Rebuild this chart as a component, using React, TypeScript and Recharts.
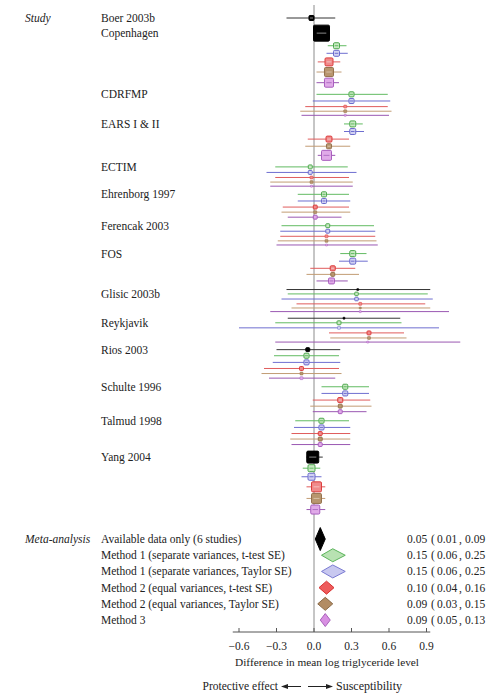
import {
  ScatterChart,
  Scatter,
  XAxis,
  YAxis,
  ErrorBar,
  ReferenceLine,
  ReferenceArea,
} from "recharts";

// each entry: [estimate, lower, upper, weight] or null when the study has no row
type Est = [number, number, number, number] | null;

const studies = [
  "Boer 2003b",
  "Copenhagen",
  "CDRFMP",
  "EARS I & II",
  "ECTIM",
  "Ehrenborg 1997",
  "Ferencak 2003",
  "FOS",
  "Glisic 2003b",
  "Reykjavik",
  "Rios 2003",
  "Schulte 1996",
  "Talmud 1998",
  "Yang 2004",
];

const availableData: Est[] = [
  [-0.02, -0.22, 0.17, 10],
  [0.06, 0.03, 0.09, 100],
  null,
  null,
  null,
  null,
  null,
  null,
  [0.35, -0.22, 0.93, 1.6],
  [0.24, -0.21, 0.69, 1.6],
  [-0.05, -0.3, 0.21, 6],
  null,
  null,
  [-0.01, -0.06, 0.07, 56],
];

const m1TTest: Est[] = [
  null,
  [0.18, 0.11, 0.26, 14],
  [0.3, 0.02, 0.59, 10],
  [0.31, 0.24, 0.39, 14],
  [-0.03, -0.31, 0.27, 6],
  [0.08, -0.13, 0.28, 10],
  [0.11, -0.26, 0.48, 6],
  [0.31, 0.21, 0.42, 14],
  [0.34, -0.21, 0.91, 4.8],
  [0.2, -0.31, 0.7, 6],
  [-0.06, -0.32, 0.2, 10],
  [0.25, 0.06, 0.44, 10],
  [0.06, -0.15, 0.28, 10],
  [-0.02, -0.09, 0.05, 19],
];

const m1Taylor: Est[] = [
  null,
  [0.18, 0.1, 0.27, 14],
  [0.3, -0.01, 0.61, 10],
  [0.31, 0.24, 0.4, 14],
  [-0.03, -0.38, 0.34, 6],
  [0.08, -0.13, 0.29, 10],
  [0.11, -0.27, 0.49, 6],
  [0.31, 0.2, 0.43, 14],
  [0.34, -0.26, 0.95, 4.8],
  [0.2, -0.6, 1.0, 3.5],
  [-0.06, -0.33, 0.21, 10],
  [0.25, 0.06, 0.44, 10],
  [0.06, -0.16, 0.29, 10],
  [-0.02, -0.1, 0.06, 19],
];

const m2TTest: Est[] = [
  null,
  [0.12, 0.03, 0.21, 25],
  [0.25, -0.07, 0.59, 3.5],
  [0.12, -0.05, 0.28, 14],
  [-0.02, -0.31, 0.28, 3.5],
  [0.01, -0.25, 0.28, 6],
  [0.1, -0.27, 0.49, 3.5],
  [0.15, -0.03, 0.33, 10],
  [0.37, -0.14, 0.89, 3.5],
  [0.44, 0.12, 0.72, 6],
  [-0.1, -0.4, 0.2, 6],
  [0.21, -0.01, 0.45, 10],
  [0.05, -0.18, 0.29, 6],
  [0.02, -0.06, 0.09, 39],
];

const m2Taylor: Est[] = [
  null,
  [0.12, 0.02, 0.22, 32],
  [0.25, -0.11, 0.62, 3.5],
  [0.12, -0.07, 0.29, 10],
  [-0.02, -0.35, 0.31, 3.5],
  [0.01, -0.26, 0.29, 3.5],
  [0.1, -0.29, 0.5, 3.5],
  [0.15, -0.06, 0.36, 6],
  [0.37, -0.18, 0.93, 1.6],
  [0.44, 0.13, 0.74, 3.5],
  [-0.1, -0.42, 0.22, 3.5],
  [0.21, -0.03, 0.46, 6],
  [0.05, -0.19, 0.29, 6],
  [0.02, -0.06, 0.09, 39],
];

const method3: Est[] = [
  null,
  [0.12, 0.02, 0.2, 32],
  [0.25, -0.1, 0.6, 1.6],
  [0.1, 0.03, 0.17, 39],
  [-0.02, -0.35, 0.31, 1.6],
  [0.01, -0.21, 0.22, 6],
  [0.1, -0.3, 0.51, 1.6],
  [0.14, 0.02, 0.27, 14],
  [0.37, -0.35, 1.08, 1.6],
  [0.43, -0.31, 1.17, 1.6],
  [-0.1, -0.36, 0.17, 3.5],
  [0.21, -0.01, 0.42, 6],
  [0.05, -0.18, 0.29, 6],
  [0.01, -0.06, 0.09, 32],
];

const metaLabels = [
  "Available data only (6 studies)",
  "Method 1 (separate variances, t-test SE)",
  "Method 1 (separate variances, Taylor SE)",
  "Method 2 (equal variances, t-test SE)",
  "Method 2 (equal variances, Taylor SE)",
  "Method 3",
];
const metaEstimate = [0.05, 0.15, 0.15, 0.1, 0.09, 0.09];
const metaLower = [0.01, 0.06, 0.06, 0.04, 0.03, 0.05];
const metaUpper = [0.09, 0.25, 0.25, 0.16, 0.15, 0.13];

const xTicks = [-0.6, -0.3, 0, 0.3, 0.6, 0.9];

const FONT = "'Liberation Serif', 'DejaVu Serif', serif";
const TEXT = "#222";
const FS = 11.5;

const series = [
  { values: availableData, line: "#333", stroke: "#000", fill: "#000", dash: "#888" },
  { values: m1TTest, line: "#62bb62", stroke: "#4ea84e", fill: "#c8e8c2", dash: "#62bb62" },
  { values: m1Taylor, line: "#6e6ed0", stroke: "#6a6acc", fill: "#d2d2f2", dash: "#6e6ed0" },
  { values: m2TTest, line: "#e05c5c", stroke: "#dc3c3c", fill: "#f08a8a", dash: "#f4c0c0" },
  { values: m2Taylor, line: "#c29c74", stroke: "#94724e", fill: "#b8966e", dash: "#d8c0a4" },
  { values: method3, line: "#9a58b2", stroke: "#a85ebe", fill: "#e0aae8", dash: "#b070c4" },
];

const metaStyle = [
  { fill: "#000", stroke: "#000", h: 23 },
  { fill: "#b8e2b2", stroke: "#5cb45c", h: 13 },
  { fill: "#c8c8f0", stroke: "#7a7ad2", h: 13 },
  { fill: "#ee5c5c", stroke: "#d83030", h: 13 },
  { fill: "#b28c64", stroke: "#8a6a48", h: 13 },
  { fill: "#d890e2", stroke: "#a862ba", h: 13 },
];

// row layout (y units = pixels of the plot area)
const Y_MAX = 627;
const FIRST_ROW = 13;
const ROW_GAP = 1.6;
const STUDY_GAP = 3;
const META_GAP = 29.5;
const META_STEP = 16.2;
const LABEL_MIN_SIDE = 3;
const boxSide = (w: number) => 1.6 * Math.sqrt(w);

type Row = { est: number; err: [number, number]; pos: number; side: number };
const rows: Row[][] = series.map(() => []);
const studyPos: number[] = [];
let pos = FIRST_ROW;
let prevSide: number | null = null;
studies.forEach((_, i) => {
  let first = true;
  let labelled = false;
  series.forEach((s, k) => {
    const v = s.values[i];
    if (!v) return;
    const side = boxSide(v[3]);
    if (prevSide !== null) pos += ROW_GAP + (prevSide + side) / 2 + (first ? STUDY_GAP : 0);
    // the study name sits on its first row with a visible box
    if (!labelled && side >= LABEL_MIN_SIDE) {
      studyPos.push(pos);
      labelled = true;
    }
    first = false;
    rows[k].push({ est: v[0], err: [v[0] - v[1], v[2] - v[0]], pos, side });
    prevSide = side;
  });
});
const metaPos = metaLabels.map((_, i) => pos + META_GAP + i * META_STEP);

const fmt2 = (v: number) => v.toFixed(2);
const labelRows = [
  ...studies.map((name, i) => ({ pos: studyPos[i], text: name, header: i === 0 ? "Study" : "", meta: -1 })),
  ...metaLabels.map((name, i) => ({
    pos: metaPos[i],
    text: name,
    header: i === 0 ? "Meta-analysis" : "",
    meta: i,
  })),
];

function RowLabel(props: any) {
  const { y, payload } = props;
  const info = labelRows.find((r) => Math.abs(r.pos - payload.value) < 1e-6);
  if (!info) return null;
  const ty = y + 4;
  const m = info.meta;
  return (
    <g fontFamily={FONT} fontSize={FS} fill={TEXT}>
      {info.header && (
        <text x={25} y={ty} fontStyle="italic">
          {info.header}
        </text>
      )}
      <text x={101} y={ty}>
        {info.text}
      </text>
      {m >= 0 && (
        // the closing bracket falls outside the right edge in the original
        <text y={ty}>
          <tspan x={407}>{fmt2(metaEstimate[m])}</tspan>
          <tspan x={431}>(</tspan>
          <tspan x={437}>{fmt2(metaLower[m])}</tspan>
          <tspan x={459}>,</tspan>
          <tspan x={465}>{fmt2(metaUpper[m])}</tspan>
        </text>
      )}
    </g>
  );
}

function XTick(props: any) {
  const { x, y, payload } = props;
  const label = payload.value.toFixed(1).replace("-", "\u2212");
  return (
    <g>
      <line x1={x} x2={x} y1={y} y2={y - 4} stroke="#555" />
      <text x={x} y={y + 18} textAnchor="middle" fontFamily={FONT} fontSize={FS} fill={TEXT}>
        {label}
      </text>
    </g>
  );
}

const makeBox = (s: (typeof series)[number]) => (props: any) => {
  const { cx, cy, payload } = props;
  const side = payload.side;
  return (
    <g>
      <rect
        x={cx - side / 2}
        y={cy - side / 2}
        width={side}
        height={side}
        rx={Math.min(side * 0.2, 1.2)}
        fill={s.fill}
        stroke={s.stroke}
        strokeWidth={side > 3 ? 1 : 0.5}
      />
      {side > 5 && (
        <line x1={cx - side * 0.3} x2={cx + side * 0.3} y1={cy} y2={cy} stroke={s.dash} strokeWidth={1} />
      )}
    </g>
  );
};

const makeDiamond = (i: number) => (props: any) => {
  const { x, y, width, height } = props;
  const st = metaStyle[i];
  const f = (metaEstimate[i] - metaLower[i]) / (metaUpper[i] - metaLower[i]);
  const mx = x + f * width;
  const my = y + height / 2;
  return (
    <polygon
      points={`${x},${my} ${mx},${y} ${x + width},${my} ${mx},${y + height}`}
      fill={st.fill}
      stroke={st.stroke}
      strokeWidth={1}
    />
  );
};

export default function App() {
  return (
    <div style={{ position: "absolute", left: 0, top: 0 }}>
      <ScatterChart width={496} height={694} margin={{ top: 5, right: 19.5, bottom: 0, left: 0 }}>
        <XAxis
          type="number"
          dataKey="est"
          domain={[-0.8, 1.3]}
          ticks={xTicks}
          interval={0}
          height={62}
          axisLine={false}
          tickLine={false}
          tickSize={0}
          tickMargin={0}
          tick={<XTick />}
        />
        <YAxis
          type="number"
          dataKey="pos"
          domain={[0, Y_MAX]}
          reversed
          width={214}
          ticks={labelRows.map((r) => r.pos).sort((a, b) => a - b)}
          interval={0}
          axisLine={false}
          tickLine={false}
          tick={<RowLabel />}
        />
        <ReferenceLine x={0} stroke="#8c8c8c" strokeWidth={1} />
        <ReferenceLine
          segment={[
            { x: -0.65, y: Y_MAX },
            { x: 0.93, y: Y_MAX },
          ]}
          stroke="#555"
          strokeWidth={1}
          ifOverflow="visible"
        />
        {series.map((s, k) => (
          <Scatter key={k} data={rows[k]} shape={makeBox(s)} isAnimationActive={false}>
            <ErrorBar
              dataKey="err"
              direction="x"
              width={0}
              stroke={s.line}
              strokeWidth={1}
              isAnimationActive={false}
            />
          </Scatter>
        ))}
        {metaLabels.map((_, i) => (
          <ReferenceArea
            key={`meta-${i}`}
            x1={metaLower[i]}
            x2={metaUpper[i]}
            y1={metaPos[i] - metaStyle[i].h / 2}
            y2={metaPos[i] + metaStyle[i].h / 2}
            shape={makeDiamond(i)}
            ifOverflow="visible"
          />
        ))}
        <text x={327} y={666} textAnchor="middle" fontFamily={FONT} fontSize={11.3} fill={TEXT}>
          Difference in mean log triglyceride level
        </text>
        <text x={278} y={690} textAnchor="end" fontFamily={FONT} fontSize={FS} fill={TEXT}>
          Protective effect
        </text>
        <line x1={286} x2={301} y1={686.5} y2={686.5} stroke="#222" strokeWidth={1} />
        <polygon points="281,686.5 288,684 288,689" fill="#222" />
        <line x1={308} x2={328} y1={686.5} y2={686.5} stroke="#222" strokeWidth={1} />
        <polygon points="333,686.5 326,684 326,689" fill="#222" />
        <text x={336} y={690} fontFamily={FONT} fontSize={12} fill={TEXT}>
          Susceptibility
        </text>
      </ScatterChart>
    </div>
  );
}
